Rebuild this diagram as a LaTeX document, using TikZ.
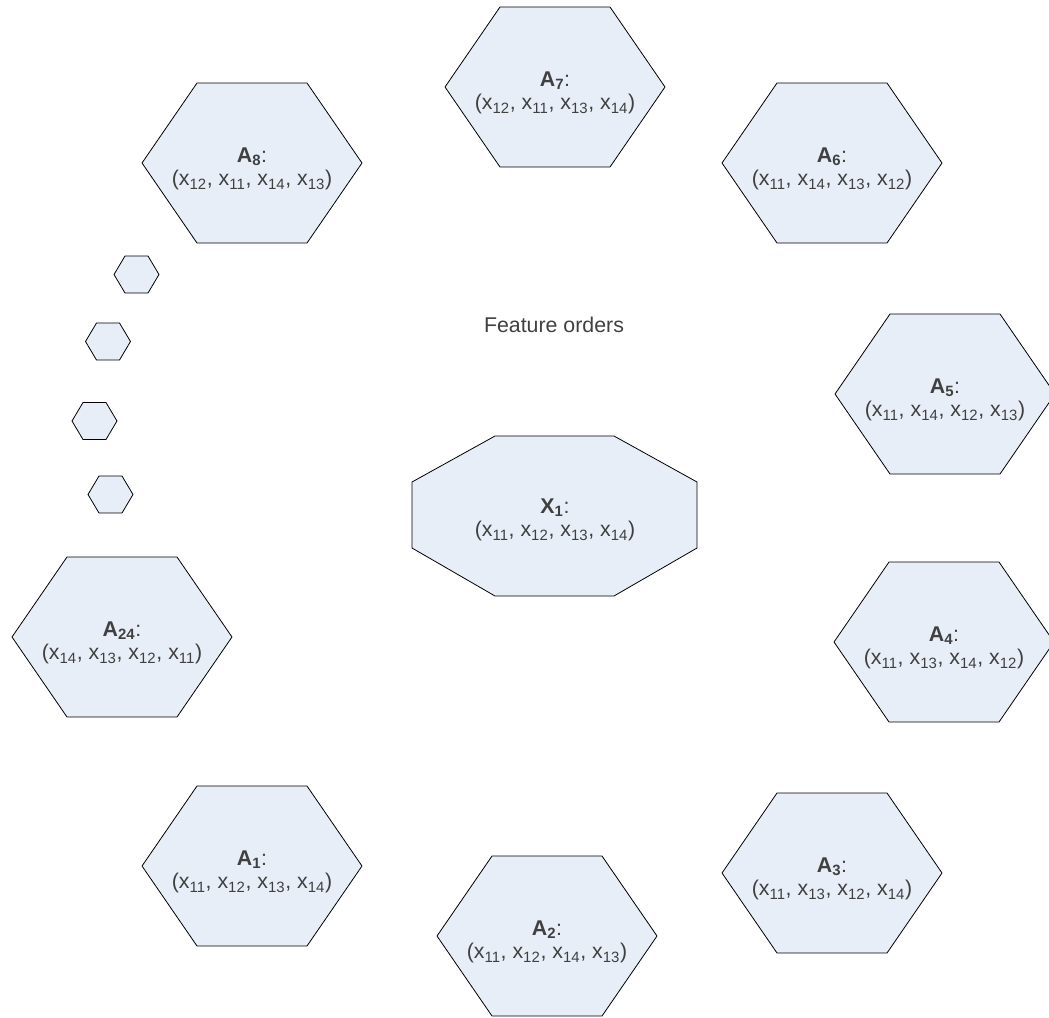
\documentclass[tikz,border=0pt]{standalone}
\usepackage{fontspec}
\setmainfont{Liberation Sans}
\definecolor{cellfill}{HTML}{E8EEF8}
\definecolor{celltext}{HTML}{404040}
\newcommand{\xv}[1]{x\textsubscript{#1}}
\tikzset{
  cell/.style={draw=black, fill=cellfill, line width=0.6pt, line join=miter},
  celllabel/.style={align=center, text=celltext, inner sep=0pt,
    font=\fontsize{16}{17.5}\selectfont},
}
\begin{document}
\begin{tikzpicture}[x=0.75pt, y=-0.75pt]
  \useasboundingbox (0,0) rectangle (1049,1017);
  % permuted orders around the original one
  \foreach \cx/\cy/\nm/\ttl/\ord in {
      555/87/a7/A\textsubscript{7}/{\xv{12}, \xv{11}, \xv{13}, \xv{14}},
      252/163/a8/A\textsubscript{8}/{\xv{12}, \xv{11}, \xv{14}, \xv{13}},
      832/163/a6/A\textsubscript{6}/{\xv{11}, \xv{14}, \xv{13}, \xv{12}},
      945/394/a5/A\textsubscript{5}/{\xv{11}, \xv{14}, \xv{12}, \xv{13}},
      944/642/a4/A\textsubscript{4}/{\xv{11}, \xv{13}, \xv{14}, \xv{12}},
      832/873/a3/A\textsubscript{3}/{\xv{11}, \xv{13}, \xv{12}, \xv{14}},
      547/936/a2/A\textsubscript{2}/{\xv{11}, \xv{12}, \xv{14}, \xv{13}},
      252/866/a1/A\textsubscript{1}/{\xv{11}, \xv{12}, \xv{13}, \xv{14}},
      122/637/a24/A\textsubscript{24}/{\xv{14}, \xv{13}, \xv{12}, \xv{11}}}{
    \draw[cell] (\cx-110,\cy) -- ++(55,-80) -- ++(110,0) -- ++(55,80)
      -- ++(-55,80) -- ++(-110,0) -- cycle;
    \node[celllabel] (\nm) at (\cx,\cy+6) {\textbf{\ttl}:\\ (\ord)};
  }
  % the skipped ones
  \foreach \cx/\cy in {136.5/274.5, 108/341.5, 94.5/421, 110.5/494.5}
    \draw[cell] (\cx-22.5,\cy) -- ++(11,-18.5) -- ++(23,0) -- ++(11,18.5)
      -- ++(-11,18.5) -- ++(-23,0) -- cycle;
  % original order
  \draw[cell] (412,482) -- (495,436) -- (614,436) -- (697,482)
    -- (697,548) -- (614,596) -- (495,596) -- (412,548) -- cycle;
  \node[celllabel] (x1) at (555,520)
    {\textbf{X\textsubscript{1}}:\\ (\xv{11}, \xv{12}, \xv{13}, \xv{14})};
  \node[celllabel] (title) at (554,325) {Feature orders};
\end{tikzpicture}
\end{document}
